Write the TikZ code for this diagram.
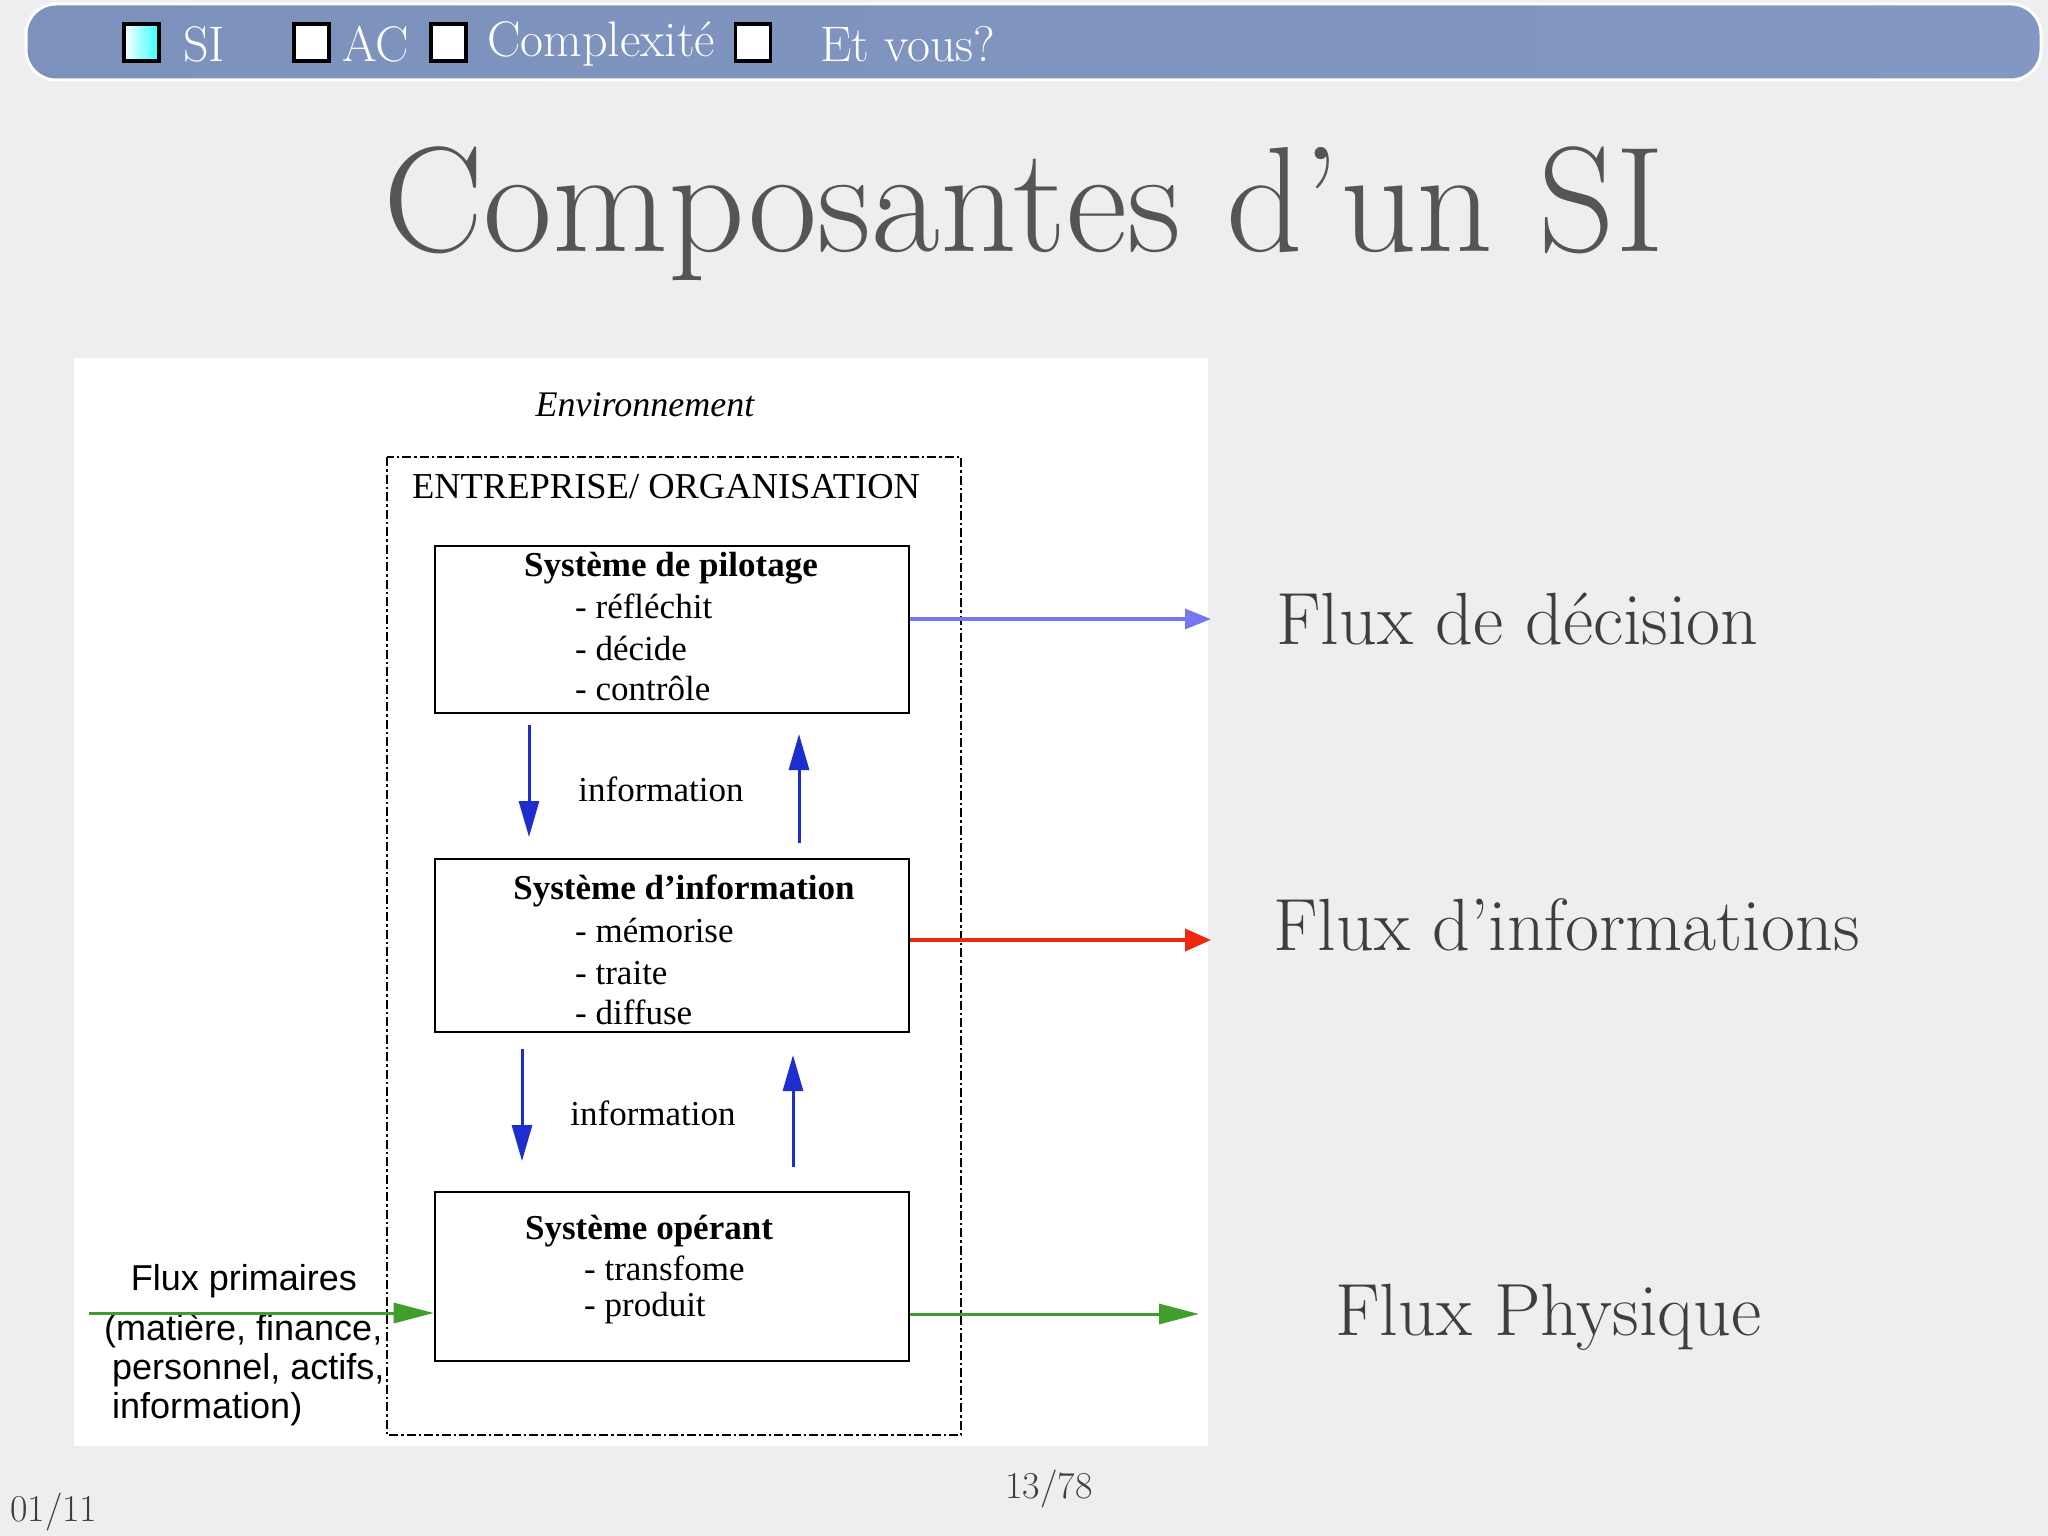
\documentclass[tikz,border=0pt]{standalone}
\usepackage{fontspec}
\newfontfamily\tms{Liberation Serif}
\newfontfamily\arl{Liberation Sans}
\usetikzlibrary{arrows.meta,calc}
\definecolor{bgc}{RGB}{238,238,240}
\definecolor{barc}{RGB}{130,152,194}
\definecolor{barl}{RGB}{124,145,188}
\definecolor{infblue}{RGB}{30,45,205}
\definecolor{decblue}{RGB}{118,118,238}
\definecolor{infred}{RGB}{238,40,16}
\definecolor{phgreen}{RGB}{64,158,44}
\definecolor{titlec}{RGB}{85,85,85}
\definecolor{labc}{RGB}{62,62,62}
\tikzset{
  sbox/.style={draw=black, line width=2.6pt, fill=white, inner sep=0pt},
  chk/.style={draw=black, line width=3.5pt, fill=white},
  bartxt/.style={text=white, anchor=west, inner sep=0pt, font=\fontsize{50}{54}\selectfont},
  dtxt/.style={inner sep=0pt, font=\tms\fontsize{35}{38}\selectfont},
  dbold/.style={inner sep=0pt, font=\tms\bfseries\fontsize{35}{38}\selectfont},
  ptxt/.style={inner sep=0pt, anchor=west, font=\arl\fontsize{36}{40}\selectfont},
  rlab/.style={inner sep=0pt, anchor=west, text=labc, font=\fontsize{74}{78}\selectfont},
  infarrow/.style={draw=infblue, line width=3pt, -{Triangle[length=36pt,width=20pt]}},
  grarrow/.style={draw=phgreen, line width=3pt, -{Triangle[length=40pt,width=20pt]}},
  decarrow/.style={draw=decblue, line width=3.5pt, -{Triangle[length=26pt,width=20pt]}},
  redarrow/.style={draw=infred, line width=4pt, -{Triangle[length=26pt,width=22pt]}},
  pnum/.style={inner sep=0pt, text=labc, font=\fontsize{38}{42}\selectfont}
}
\begin{document}
\begin{tikzpicture}[x=1pt,y=-1pt]
\useasboundingbox (0,0) rectangle (2048,1536);
\fill[bgc] (0,0) rectangle (2048,1536);
% top bar
\draw[white, line width=3pt, rounded corners=30pt, left color=barl, right color=barc] (26,4) rectangle (2041,80);
\node[chk, minimum width=35pt, minimum height=37pt, inner sep=0pt, left color=white, right color=cyan!80] (c1) at (141.5,42.5) {};
\node[chk, minimum width=35pt, minimum height=37pt, inner sep=0pt] (c2) at (311.5,42.5) {};
\node[chk, minimum width=35pt, minimum height=37pt, inner sep=0pt] (c3) at (448.5,42.5) {};
\node[chk, minimum width=35pt, minimum height=37pt, inner sep=0pt] (c4) at (753,42.5) {};
\node[bartxt] (t1) at (183,44) {SI};
\node[bartxt] (t2) at (342,44) {AC};
\node[bartxt] (t3) at (487,44) {Complexité};
\node[bartxt] (t4) at (820,44) {Et vous?};
% title
\node[inner sep=0pt, anchor=base, text=titlec, font=\fontsize{150}{154}\selectfont] (title) at (1024,251) {Composantes d’un SI};
% panel
\fill[white] (74,358) rectangle (1208,1446);
\node[inner sep=0pt, font=\tms\itshape\fontsize{36}{40}\selectfont] (env) at (645,405) {Environnement};
\draw[line width=2.4pt, dash pattern=on 9pt off 3pt on 2.5pt off 3pt] (387,457) rectangle (961,1435);
\node[inner sep=0pt, font=\tms\fontsize{36.5}{40}\selectfont] (ent) at (666,487) {ENTREPRISE/ ORGANISATION};
% boxes
\node[sbox, minimum width=474pt, minimum height=167pt] (p1) at (672,629.5) {};
\node[sbox, minimum width=474pt, minimum height=173pt] (p2) at (672,945.5) {};
\node[sbox, minimum width=474pt, minimum height=169pt] (p3) at (672,1276.5) {};
\node[dbold] (p1t) at (671,568) {Système de pilotage};
\node[dtxt, anchor=west] (p1a) at (575,606) {- réfléchit};
\node[dtxt, anchor=west] (p1b) at (575,648) {- décide};
\node[dtxt, anchor=west] (p1c) at (575,688) {- contrôle};
\node[dbold] (p2t) at (684,891) {Système d’information};
\node[dtxt, anchor=west] (p2a) at (575,930) {- mémorise};
\node[dtxt, anchor=west] (p2b) at (575,973) {- traite};
\node[dtxt, anchor=west] (p2c) at (575,1012) {- diffuse};
\node[dbold] (p3t) at (649,1231) {Système opérant};
\node[dtxt, anchor=west] (p3a) at (584,1268) {- transfome};
\node[dtxt, anchor=west] (p3b) at (584,1308) {- produit};
% information arrows
\node[dtxt] (inf1) at (661,789) {information};
\node[dtxt] (inf2) at (653,1113) {information};
\coordinate (d1s) at (529,725); \coordinate (d1e) at (529,837);
\coordinate (u1s) at (799,843); \coordinate (u1e) at (799,734);
\coordinate (d2s) at (522,1049); \coordinate (d2e) at (522,1161);
\coordinate (u2s) at (793,1167); \coordinate (u2e) at (793,1055);
\draw[infarrow] (d1s) -- (d1e);
\draw[infarrow] (u1s) -- (u1e);
\draw[infarrow] (d2s) -- (d2e);
\draw[infarrow] (u2s) -- (u2e);
% flux primaires
\node[inner sep=0pt, font=\arl\fontsize{36}{40}\selectfont] (fp) at (244,1281) {Flux primaires};
\node[ptxt] (fp1) at (104,1331) {(matière, finance,};
\node[ptxt] (fp2) at (112,1370) {personnel, actifs,};
\node[ptxt] (fp3) at (112,1409) {information)};
\coordinate (gin) at (89,1313);
\draw[grarrow] (gin) -- (p3.west |- gin);
% right flows
\coordinate (gout) at (1199,1314);
\draw[grarrow] (p3.east |- gout) -- (gout);
\coordinate (dec) at (1211,619);
\draw[decarrow] (p1.east |- dec) -- (dec);
\coordinate (red) at (1211,940);
\draw[redarrow] (p2.east |- red) -- (red);
\node[rlab] (l1) at (1276,619) {Flux de décision};
\node[rlab] (l2) at (1273,925) {Flux d’informations};
\node[rlab] (l3) at (1335,1317) {Flux Physique};
% page numbers
\node[pnum] (pg) at (1049,1489) {13/78};
\node[pnum, anchor=west] (sec) at (10,1512) {01/11};
\end{tikzpicture}
\end{document}
